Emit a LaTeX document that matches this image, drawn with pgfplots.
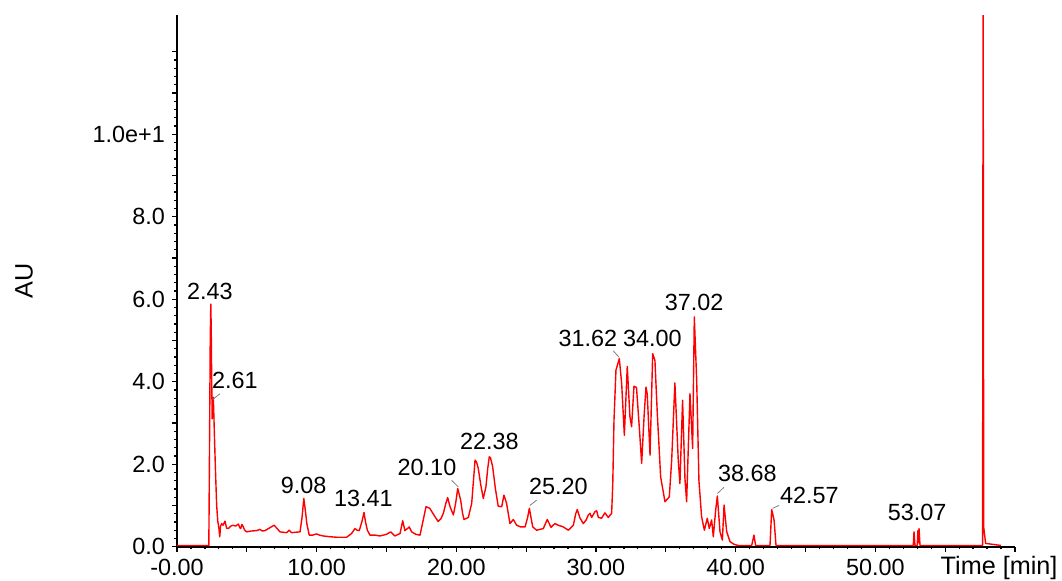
\documentclass[border=0pt]{standalone}
\usepackage{fontspec}
\setmainfont{Liberation Sans}
\usepackage{pgfplots}
\pgfplotsset{compat=1.18}
\newcommand\lbl{\fontsize{11.7}{14}\selectfont}
\newcommand\axl{\fontsize{12.6}{15}\selectfont}
\begin{document}
\begin{tikzpicture}
\begin{axis}[
  at={(0,0)}, anchor=south west,
  scale only axis, width=419pt, height=265.85pt,
  xmin=0, xmax=60, ymin=0, ymax=12.89,
  axis lines=left, axis line style={-, line width=0.8pt},
  tick align=outside, tick style={black, line width=0.6pt},
  major tick length=2.5pt, minor tick length=1.3pt,
  xtick={0,5,...,60}, xticklabels={-0.00,,10.00,,20.00,,30.00,,40.00,,50.00,,},
  minor x tick num=4,
  ytick={0,1,...,12}, yticklabels={0.0,,2.0,,4.0,,6.0,,8.0,,1.0e+1,,},
  minor y tick num=4,
  ticklabel style={font=\lbl},
  /pgf/number format/assume math mode=true,
  xlabel={Time [min]},
  xlabel style={at={(axis description cs:0.981,-0.040)}, anchor=center, font=\axl},
  ylabel={AU},
  ylabel style={at={(axis description cs:-0.1826,0.5)}, anchor=center, font=\axl},
]
\addplot[red, line width=0.7pt, no marks, line join=round] coordinates {
(0,0.03) (2.28,0.03) (2.33,2.5) (2.38,5.0) (2.42,5.88) (2.45,5.3) (2.48,4.2)
(2.52,3.1) (2.56,3.2) (2.60,3.62) (2.63,3.3) (2.68,2.7) (2.75,1.9) (2.84,1.0)
(2.92,0.62) (3.00,0.45) (3.06,0.24) (3.12,0.5) (3.20,0.56) (3.30,0.52) (3.44,0.62)
(3.55,0.45) (3.68,0.44) (3.85,0.50) (4.03,0.52) (4.20,0.50) (4.39,0.55) (4.50,0.46)
(4.56,0.44) (4.65,0.54) (4.72,0.50) (4.85,0.40) (4.99,0.36) (5.3,0.38) (5.7,0.39)
(5.94,0.42) (6.1,0.38) (6.3,0.39) (6.6,0.45) (6.95,0.52) (7.15,0.45) (7.37,0.36)
(7.6,0.35) (7.85,0.34) (8.04,0.40) (8.20,0.34) (8.5,0.35) (8.81,0.36) (8.95,0.7)
(9.08,1.17) (9.2,0.85) (9.3,0.55) (9.47,0.28) (9.7,0.28) (10.0,0.31) (10.2,0.28)
(10.48,0.26) (11.0,0.24) (11.43,0.23) (12.15,0.23) (12.5,0.32) (12.74,0.44) (12.9,0.40)
(13.05,0.39) (13.25,0.62) (13.39,0.83) (13.5,0.6) (13.63,0.40) (13.82,0.28) (14.2,0.28)
(14.53,0.26) (15.0,0.3) (15.3,0.36) (15.6,0.26) (15.97,0.32) (16.16,0.63) (16.32,0.39)
(16.5,0.44) (16.63,0.48) (16.8,0.36) (17.1,0.3) (17.4,0.28) (17.6,0.6) (17.83,0.97)
(18.1,0.93) (18.3,0.82) (18.47,0.73) (18.7,0.61) (18.9,0.68) (19.07,0.81) (19.25,1.05)
(19.38,1.19) (19.55,0.97) (19.79,0.77) (19.95,1.05) (20.1,1.41) (20.31,1.13) (20.45,0.8)
(20.55,0.66) (20.86,0.71) (21.1,1.05) (21.25,1.7) (21.34,2.1) (21.45,2.05) (21.57,1.9)
(21.75,1.5) (21.93,1.17) (22.12,1.45) (22.25,1.9) (22.36,2.18) (22.45,2.15) (22.6,1.94)
(22.8,1.4) (23.0,0.98) (23.25,0.97) (23.41,1.25) (23.6,1.05) (23.84,0.56) (24.08,0.66)
(24.32,0.52) (24.6,0.48) (24.92,0.48) (25.1,0.7) (25.23,0.93) (25.35,0.7) (25.47,0.48)
(25.75,0.40) (26.23,0.44) (26.51,0.66) (26.78,0.47) (27.06,0.56) (27.3,0.52) (27.66,0.48)
(28.02,0.40) (28.38,0.52) (28.55,0.8) (28.66,0.90) (28.85,0.7) (29.09,0.56) (29.3,0.65)
(29.45,0.77) (29.57,0.81) (29.69,0.71) (29.93,0.85) (30.05,0.87) (30.17,0.71) (30.4,0.69)
(30.64,0.82) (30.88,0.71) (31.12,0.81) (31.2,1.5) (31.29,3.07) (31.43,4.28) (31.67,4.56)
(31.84,3.95) (32.03,2.70) (32.24,4.37) (32.43,3.15) (32.55,2.91) (32.72,3.89) (32.9,3.86)
(33.1,2.9) (33.27,2.02) (33.45,3.2) (33.58,3.87) (33.67,3.7) (33.87,2.22) (34.06,4.68)
(34.22,4.52) (34.39,3.23) (34.63,1.69) (34.94,1.09) (35.25,1.21) (35.42,2.1) (35.65,3.97)
(35.89,2.1) (36.01,1.53) (36.2,3.55) (36.37,1.65) (36.49,1.09) (36.73,3.71) (36.92,2.38)
(37.04,5.57) (37.21,4.04) (37.37,1.61) (37.56,0.73) (37.76,0.40) (37.97,0.69) (38.11,0.44)
(38.28,0.65) (38.4,0.24) (38.57,0.89) (38.69,1.23) (38.88,0.36) (39.05,0.16) (39.17,1.01)
(39.36,0.36) (39.6,0.12) (39.88,0.06) (40.07,0.04) (40.2,0.03) (41.15,0.03) (41.31,0.28)
(41.43,0.03) (42.46,0.03) (42.58,0.90) (42.75,0.65) (42.89,0.03) (52.72,0.03) (52.77,0.36)
(52.84,0.03) (53.0,0.03) (53.05,0.39) (53.1,0.1) (53.13,0.44) (53.2,0.03) (57.68,0.03)
(57.72,14) (57.76,0.48) (57.82,0.3) (57.9,0.08) (59.0,0.03)
};
\node[font=\lbl] at (axis cs:2.36,6.19) {2.43};
\node[font=\lbl] at (axis cs:4.15,4.03) {2.61};
\node[font=\lbl] at (axis cs:9.06,1.49) {9.08};
\node[font=\lbl] at (axis cs:13.35,1.18) {13.41};
\node[font=\lbl] at (axis cs:17.9,1.93) {20.10};
\node[font=\lbl] at (axis cs:22.37,2.56) {22.38};
\node[font=\lbl] at (axis cs:27.31,1.45) {25.20};
\node[font=\lbl] at (axis cs:29.42,5.05) {31.62};
\node[font=\lbl] at (axis cs:34.04,5.05) {34.00};
\node[font=\lbl] at (axis cs:37.03,5.92) {37.02};
\node[font=\lbl] at (axis cs:40.84,1.78) {38.68};
\node[font=\lbl] at (axis cs:45.28,1.25) {42.57};
\node[font=\lbl] at (axis cs:53.0,0.82) {53.07};
\draw[gray, line width=0.4pt] (axis cs:2.56,3.57) -- (axis cs:3.08,3.71);
\draw[gray, line width=0.4pt] (axis cs:19.66,1.61) -- (axis cs:20.14,1.45);
\draw[gray, line width=0.4pt] (axis cs:25.27,1.0) -- (axis cs:25.75,1.13);
\draw[gray, line width=0.4pt] (axis cs:31.23,4.75) -- (axis cs:31.66,4.59);
\draw[gray, line width=0.4pt] (axis cs:38.7,1.29) -- (axis cs:39.16,1.44);
\draw[gray, line width=0.4pt] (axis cs:42.64,0.93) -- (axis cs:43.11,1.0);
\end{axis}
\pgfresetboundingbox
\path (-88.5pt,-16.65pt) rectangle (442.5pt,273.35pt);
\end{tikzpicture}
\end{document}
